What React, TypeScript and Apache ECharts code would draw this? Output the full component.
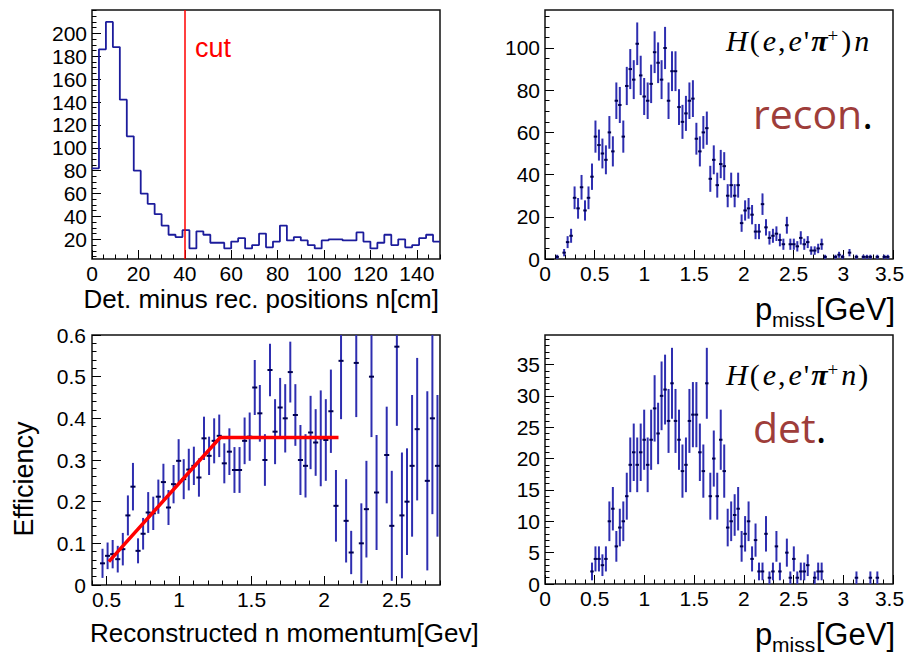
import React, { useEffect, useRef } from "react";
import * as echarts from "echarts";

// ---------- Panel 1: detected minus reconstructed position ----------
const posBinWidth = 3;
const posCounts = [
  82, 186, 210, 188, 142, 110, 80, 60, 51, 42, 32, 24, 22, 28, 12, 27, 24, 17, 17, 12,
  18, 21, 12, 15, 25, 13, 18, 32, 19, 22, 19, 15, 12, 19, 20, 20, 19, 19, 26, 18,
  12, 17, 24, 15, 20, 13, 15, 21, 24, 18,
];
const cutPosition = 40;
const posXTicks = [0, 20, 40, 60, 80, 100, 120, 140];
const posYTicks = [20, 40, 60, 80, 100, 120, 140, 160, 180, 200];

// ---------- Panels 2 & 4: p_miss spectra (bin width 0.035 GeV, 100 bins) ----------
const pBinWidth = 0.035;
const reconCounts = [
  0, 0, 0, 1, 0, 3, 8, 11, 29, 24, 34, 23, 29, 39, 58, 54, 50, 47, 60, 51,
  75, 73, 58, 82, 90, 85, 102, 87, 77, 75, 83, 98, 93, 85, 100, 75, 89, 89, 72, 65,
  69, 75, 76, 57, 51, 60, 62, 38, 47, 35, 45, 44, 30, 35, 30, 35, 17, 23, 24, 21,
  13, 13, 26, 15, 10, 11, 12, 9, 7, 16, 7, 7, 6, 10, 7, 8, 4, 4, 5, 7,
  1, 0, 0, 1, 2, 1, 0, 3, 0, 1, 0, 1, 1, 1, 0, 1, 0, 1, 1, 0,
];
const detCounts = [
  0, 0, 0, 0, 0, 0, 0, 0, 0, 0, 0, 0, 0, 2, 4, 4, 3, 4, 10, 12,
  6, 9, 10, 14, 19, 21, 19, 21, 23, 19, 23, 28, 24, 30, 31, 26, 32, 26, 23, 18,
  19, 26, 27, 27, 21, 18, 32, 14, 20, 14, 23, 18, 9, 10, 11, 12, 6, 8, 10, 4,
  7, 2, 2, 8, 1, 2, 6, 2, 0, 5, 1, 4, 1, 2, 2, 3, 0, 1, 2, 2,
  0, 0, 0, 0, 0, 0, 0, 0, 0, 1, 0, 0, 0, 1, 0, 1, 0, 0, 0, 0,
];
const pXTicks = [0, 0.5, 1, 1.5, 2, 2.5, 3, 3.5];
const reconYTicks = [0, 20, 40, 60, 80, 100];
const detYTicks = [0, 5, 10, 15, 20, 25, 30, 35];

// ---------- Panel 3: efficiency ----------
const effFirstBin = 13;
const effValues = [
  0.052, 0.07, 0.074, 0.062, 0.086, 0.167, 0.236, 0.082, 0.123, 0.174,
  0.172, 0.212, 0.247, 0.186, 0.242, 0.298, 0.254, 0.277, 0.286, 0.258,
  0.352, 0.31, 0.346, 0.358, 0.292, 0.32, 0.276, 0.276, 0.346, 0.356,
  0.474, 0.412, 0.3, 0.516, 0.368, 0.426, 0.4, 0.511, 0.408, 0.3,
  0.286, 0.366, 0.342, 0.352, 0.348, 0.417, 0.19, 0.538, 0.154, 0.078,
  0.533, 0.1, 0.182, 0.5, 0.222, null, 0.312, 0.142, 0.572, 0.167,
  0.2, 0.286, 0.374, null, 0.25, 0.4, 0.286,
];
const effErrors = [
  0.035, 0.032, 0.034, 0.032, 0.039, 0.048, 0.057, 0.03, 0.038, 0.049,
  0.04, 0.041, 0.044, 0.042, 0.046, 0.052, 0.048, 0.05, 0.046, 0.046,
  0.052, 0.046, 0.054, 0.051, 0.048, 0.056, 0.055, 0.055, 0.056, 0.058,
  0.066, 0.068, 0.062, 0.063, 0.078, 0.071, 0.082, 0.073, 0.074, 0.084,
  0.076, 0.088, 0.08, 0.115, 0.098, 0.1, 0.086, 0.14, 0.1, 0.052,
  0.13, 0.096, 0.116, 0.145, 0.138, null, 0.116, 0.132, 0.19, 0.151,
  0.128, 0.17, 0.171, null, 0.215, 0.23, 0.17,
];
const effXTicks = [0.5, 1, 1.5, 2, 2.5];
const effYTicks = [0, 0.1, 0.2, 0.3, 0.4, 0.5, 0.6];
const fitX = [0.516, 1.284, 2.1];
const fitY = [0.056, 0.354, 0.354];

// ---------- helpers ----------
const range = (start: number, stop: number, step: number) => {
  const out: number[] = [];
  const n = Math.round((stop - start) / step);
  for (let k = 0; k <= n; k++) out.push(parseFloat((start + k * step).toFixed(6)));
  return out;
};
const minorsOf = (start: number, stop: number, step: number, majors: number[]) =>
  range(start, stop, step).filter((v) => !majors.some((m) => Math.abs(m - v) < 1e-9));

const fmt = (v: number) => String(parseFloat(Number(v).toFixed(4)));
const SANS = "'Liberation Sans', Arial, Helvetica, sans-serif";
const SERIF = "'Liberation Serif', 'Times New Roman', serif";

function makeAxes(
  dim: "x" | "y",
  gridIndex: number,
  min: number,
  max: number,
  majors: number[],
  minors: number[],
  margin: number,
  nudgeMax = false
) {
  const base = {
    type: "value",
    gridIndex,
    min,
    max,
    position: dim === "x" ? "bottom" : "left",
    axisLine: { show: false },
    splitLine: { show: false },
    minorTick: { show: false },
    minorSplitLine: { show: false },
  };
  const labelStyle = { fontFamily: SANS, fontSize: 21, color: "#000" };
  return [
    {
      ...base,
      axisTick: { show: true, inside: true, length: 9, customValues: majors, lineStyle: { color: "#000", width: 1 } },
      axisLabel: {
        show: true,
        customValues: majors,
        formatter: (v: number) =>
          nudgeMax && Math.abs(v - max) < 1e-9 ? `{r|${fmt(v)}}` : fmt(v),
        rich: { r: { ...labelStyle, padding: [0, 7, 0, 0] } },
        margin,
        ...labelStyle,
      },
    },
    {
      ...base,
      axisTick: { show: true, inside: true, length: 4.5, customValues: minors, lineStyle: { color: "#000", width: 1 } },
      axisLabel: { show: false },
    },
  ];
}

function errorBars(halfWidth: number) {
  return (params: any, api: any) => {
    const x = api.value(0);
    const y = api.value(1);
    const e = api.value(2);
    const cs = params.coordSys;
    const clampY = (v: number) => Math.max(cs.y, Math.min(cs.y + cs.height, v));
    const top = api.coord([x, y + e]);
    const bot = api.coord([x, y - e]);
    const l = api.coord([x - halfWidth, y]);
    const r = api.coord([x + halfWidth, y]);
    return {
      type: "group",
      children: [
        {
          type: "line",
          shape: { x1: top[0], y1: clampY(top[1]), x2: bot[0], y2: clampY(bot[1]) },
          style: { stroke: "#2e2eb0", lineWidth: 2 },
        },
        {
          type: "line",
          shape: { x1: l[0], y1: l[1], x2: r[0], y2: r[1] },
          style: { stroke: "#00004f", lineWidth: 2 },
        },
      ],
    };
  };
}

const formulaRich = {
  it: { fontFamily: SERIF, fontStyle: "italic", fontSize: 30, fill: "#000", padding: [0, 1, 0, 1] },
  up: { fontFamily: SERIF, fontSize: 30, fill: "#000", padding: [0, 2, 0, 1] },
  pi: { fontFamily: SERIF, fontStyle: "italic", fontWeight: "bold", fontSize: 30, fill: "#000" },
  sup: { fontFamily: SERIF, fontSize: 19, fill: "#000", verticalAlign: "top", padding: [0, 2, 0, 0] },
};
const wordRich = {
  a: { fontFamily: "'Open Sans', sans-serif", fontSize: 41, fill: "#9e3d3a" },
  b: { fontFamily: "'Open Sans', sans-serif", fontSize: 41, fill: "#000" },
};

function pmissTitle(baseY: number) {
  return [
    { type: "text", x: 755, y: baseY, style: { text: "p", fill: "#000", font: `31px ${SANS}`, textAlign: "left", textVerticalAlign: "middle" } },
    { type: "text", x: 772, y: baseY + 10, style: { text: "miss", fill: "#000", font: `21px ${SANS}`, textAlign: "left", textVerticalAlign: "middle" } },
    { type: "text", x: 895, y: baseY, style: { text: "[GeV]", fill: "#000", font: `31px ${SANS}`, textAlign: "right", textVerticalAlign: "middle" } },
  ];
}

export default function App() {
  const ref = useRef<HTMLDivElement>(null);

  useEffect(() => {
    if (!ref.current) return;
    const chart = echarts.init(ref.current, undefined, { renderer: "svg" });

    const histData: number[][] = posCounts.map((c, i) => [i * posBinWidth, c]);
    histData.push([posCounts.length * posBinWidth, posCounts[posCounts.length - 1]]);

    const toPoints = (counts: number[]) =>
      counts
        .map((n, i) => [pBinWidth * (i + 0.5), n, Math.sqrt(n)])
        .filter((d) => d[1] > 0);

    const effData: number[][] = [];
    effValues.forEach((v, k) => {
      if (v === null) return;
      effData.push([pBinWidth * (effFirstBin + k + 0.5), v, effErrors[k] as number]);
    });

    const grids = [
      { left: 92, top: 10, width: 348, height: 249 },
      { left: 545, top: 10, width: 348, height: 249 },
      { left: 92, top: 335, width: 348, height: 250 },
      { left: 545, top: 335, width: 348, height: 249 },
    ].map((g) => ({
      ...g,
      show: true,
      borderColor: "#111",
      borderWidth: 1.5,
      backgroundColor: "transparent",
      containLabel: false,
      outerBoundsMode: "none",
    }));

    const xAxis = [
      ...makeAxes("x", 0, 0, 150, posXTicks, minorsOf(0, 150, 5, posXTicks), 4),
      ...makeAxes("x", 1, 0, 3.5, pXTicks, minorsOf(0, 3.5, 0.1, pXTicks), 4, true),
      ...makeAxes("x", 2, 0.4, 2.8, effXTicks, minorsOf(0.4, 2.8, 0.1, effXTicks), 4),
      ...makeAxes("x", 3, 0, 3.5, pXTicks, minorsOf(0, 3.5, 0.1, pXTicks), 4, true),
    ];
    const yAxis = [
      ...makeAxes("y", 0, 2.8, 220.4, posYTicks, minorsOf(5, 220, 5, posYTicks), 5),
      ...makeAxes("y", 1, 0, 118, reconYTicks, minorsOf(0, 115, 5, reconYTicks), 5),
      ...makeAxes("y", 2, 0, 0.6, effYTicks, minorsOf(0, 0.6, 0.02, effYTicks), 6),
      ...makeAxes("y", 3, 0, 39.7, detYTicks, minorsOf(0, 39, 1, detYTicks), 5),
    ];

    const option: any = {
      animation: false,
      backgroundColor: "#fff",
      grid: grids,
      xAxis,
      yAxis,
      series: [
        {
          type: "line",
          xAxisIndex: 0,
          yAxisIndex: 0,
          step: "end",
          symbol: "none",
          data: histData,
          lineStyle: { color: "#1c1c9c", width: 1.8 },
          markLine: {
            silent: true,
            symbol: ["none", "none"],
            label: { show: false },
            lineStyle: { color: "#ff0000", width: 1.5, type: "solid" },
            data: [{ xAxis: cutPosition }],
          },
        },
        {
          type: "custom",
          xAxisIndex: 2,
          yAxisIndex: 2,
          data: toPoints(reconCounts),
          encode: { x: 0, y: 1 },
          renderItem: errorBars(pBinWidth / 2),
        },
        {
          type: "custom",
          xAxisIndex: 4,
          yAxisIndex: 4,
          data: effData,
          encode: { x: 0, y: 1 },
          renderItem: errorBars(pBinWidth / 2),
        },
        {
          type: "line",
          xAxisIndex: 4,
          yAxisIndex: 4,
          symbol: "none",
          data: fitX.map((x, i) => [x, fitY[i]]),
          lineStyle: { color: "#ff0000", width: 3.5 },
          z: 5,
        },
        {
          type: "custom",
          xAxisIndex: 6,
          yAxisIndex: 6,
          data: toPoints(detCounts),
          encode: { x: 0, y: 1 },
          renderItem: errorBars(pBinWidth / 2),
        },
      ],
      graphic: [
        // panel 1
        { type: "text", x: 195, y: 47.5, style: { text: "cut", fill: "#ff0000", font: `27px ${SANS}`, textAlign: "left", textVerticalAlign: "middle" } },
        { type: "text", x: 439, y: 299, style: { text: "Det. minus rec. positions n[cm]", fill: "#000", font: `26px ${SANS}`, textAlign: "right", textVerticalAlign: "middle" } },
        // panel 2
        {
          type: "text",
          x: 725,
          y: 40.5,
          style: {
            text: "{it|H}{up|(}{it|e}{up|,}{it|e}{up|'}{pi|π}{sup|+}{up|)}{it|n}",
            textAlign: "left",
            textVerticalAlign: "middle",
            rich: formulaRich,
          },
        },
        {
          type: "text",
          x: 753,
          y: 113,
          style: { text: "{a|recon}{b|.}", textAlign: "left", textVerticalAlign: "middle", rich: wordRich },
        },
        ...pmissTitle(309),
        // panel 3
        { type: "text", x: 90, y: 633, style: { text: "Reconstructed n momentum[Gev]", fill: "#000", font: `26px ${SANS}`, textAlign: "left", textVerticalAlign: "middle" } },
        { type: "text", x: 24, y: 479, rotation: Math.PI / 2, style: { text: "Efficiency", fill: "#000", font: `27px ${SANS}`, textAlign: "center", textVerticalAlign: "middle" } },
        // panel 4
        {
          type: "text",
          x: 725,
          y: 374.5,
          style: {
            text: "{it|H}{up|(}{it|e}{up|,}{it|e}{up|'}{pi|π}{sup|+}{it|n}{up|)}",
            textAlign: "left",
            textVerticalAlign: "middle",
            rich: formulaRich,
          },
        },
        {
          type: "text",
          x: 753,
          y: 427,
          style: { text: "{a|det}{b|.}", textAlign: "left", textVerticalAlign: "middle", rich: wordRich },
        },
        ...pmissTitle(634),
      ],
    };

    chart.setOption(option);
    return () => chart.dispose();
  }, []);

  return (
    <div
      ref={ref}
      style={{ position: "absolute", left: 0, top: 0, width: 906, height: 657, background: "#fff" }}
    />
  );
}
